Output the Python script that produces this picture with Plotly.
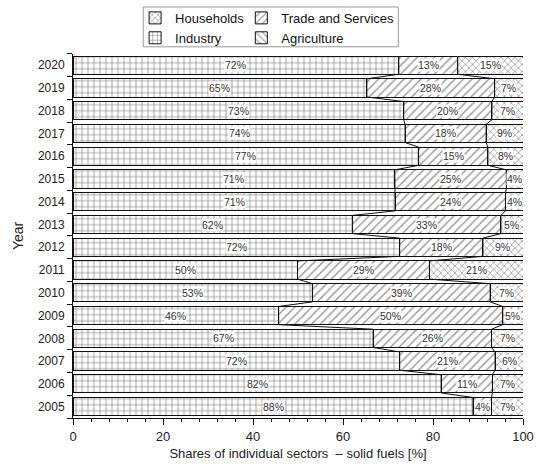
import plotly.graph_objects as go

years = list(range(2005, 2021))
# segment shares [%] (bottom 2005 -> top 2020)
industry = [88.9, 81.8, 72.6, 66.7, 45.7, 53.2, 49.9, 72.6, 62.1, 71.6, 71.5, 76.8, 73.8, 73.5, 65.3, 72.4]
trade = [4.1, 11.4, 21.2, 26.3, 49.8, 39.5, 29.3, 18.5, 33.0, 24.5, 24.8, 15.4, 18.0, 19.6, 28.4, 13.1]
agriculture = [0] * 16
households = [7.0, 6.8, 6.2, 7.0, 4.5, 7.3, 20.8, 8.9, 4.9, 3.9, 3.7, 7.8, 8.2, 6.9, 6.3, 14.5]
# printed labels
industry_lbl = [88, 82, 72, 67, 46, 53, 50, 72, 62, 71, 71, 77, 74, 73, 65, 72]
trade_lbl = [4, 11, 21, 26, 50, 39, 29, 18, 33, 24, 25, 15, 18, 20, 28, 13]
households_lbl = [7, 7, 6, 7, 5, 7, 21, 9, 5, 4, 4, 8, 9, 7, 7, 15]

FONT = "Liberation Sans, Arial, sans-serif"
fig = go.Figure()

def add_bar(name, vals, shape, size, sol, legend, rank):
    fig.add_trace(go.Bar(
        y=years, x=vals, name=name, orientation="h",
        marker=dict(color="white",
                    line=dict(color="#111", width=1),
                    pattern=dict(shape=shape, size=size, solidity=sol,
                                 fgcolor="#222", bgcolor="white")),
        legend=legend, legendrank=rank, hoverinfo="skip"))

add_bar("Industry", industry, "+", 6, 0.24, "legend", 2)
add_bar("Trade and Services", trade, "/", 6, 0.22, "legend2", 1)
add_bar("Agriculture", agriculture, "\\", 6, 0.22, "legend2", 2)
add_bar("Households", households, "x", 5, 0.26, "legend", 1)

# connecting lines between consecutive bars
h = 0.4
cum1 = industry
cum2 = [a + b + c for a, b, c in zip(industry, trade, agriculture)]
for cum in (cum1, cum2):
    xs, ys = [], []
    for yr, c in zip(years, cum):
        xs += [c, c]
        ys += [yr - h, yr + h]
    fig.add_trace(go.Scatter(x=xs, y=ys, mode="lines", line=dict(color="#111", width=1),
                             showlegend=False, hoverinfo="skip"))

# value labels
ann = []
for i, yr in enumerate(years):
    segs = [(0, industry[i], industry_lbl[i]),
            (industry[i], trade[i], trade_lbl[i]),
            (cum2[i], households[i], households_lbl[i])]
    for start, w, lbl in segs:
        ann.append(dict(x=start + w / 2, y=yr, text=f"{lbl}%", showarrow=False,
                        xref="x", yref="y", font=dict(size=10.5, color="#333", family=FONT),
                        bgcolor="white", borderpad=0))

PH = 415.0  # paper height in px (470 - 3 - 52)
dom_top = 366.0 / PH

fig.update_layout(
    width=538, height=470,
    margin=dict(l=73, r=15, t=3, b=52),
    barmode="stack", bargap=0.2,
    plot_bgcolor="white", paper_bgcolor="white",
    font=dict(family=FONT, color="#222", size=12),
    annotations=ann,
    legend=dict(x=0.138, y=1.005, xanchor="left", yanchor="top", orientation="v",
                traceorder="normal",
                font=dict(size=13, color="#111"), bgcolor="rgba(0,0,0,0)",
                tracegroupgap=0, itemwidth=30),
    legend2=dict(x=0.374, y=1.005, xanchor="left", yanchor="top", orientation="v",
                 traceorder="normal",
                 font=dict(size=13, color="#111"), bgcolor="rgba(0,0,0,0)",
                 tracegroupgap=0, itemwidth=30),
    shapes=[dict(type="rect", xref="paper", yref="paper", x0=0.156, x1=0.723,
                 y0=(418 - 45) / PH, y1=(418 - 5) / PH,
                 line=dict(color="#999", width=1))],
    xaxis=dict(range=[0, 100], tickvals=[0, 20, 40, 60, 80, 100], ticks="outside",
               ticklen=6, tickcolor="#111", showline=True, linecolor="#111", linewidth=1,
               showgrid=False, zeroline=False, tickfont=dict(size=13), automargin=False,
               minor=dict(dtick=4, tick0=0, ticks="outside", ticklen=3, tickcolor="#111"),
               title=dict(text="Shares of individual sectors  \u2013 solid fuels [%]",
                          font=dict(size=13), standoff=6)),
    yaxis=dict(range=[2004.5, 2020.5], domain=[0, dom_top], tickvals=years, ticks="",
               showline=True, automargin=False, ticklabelstandoff=5,
               linecolor="#111", linewidth=1, showgrid=False, zeroline=False,
               tickfont=dict(size=12),
               minor=dict(tick0=2004.5, dtick=1, ticks="outside", ticklen=5, tickcolor="#111"),
               title=dict(text="Year", font=dict(size=14), standoff=10)),
)

fig.write_html("out.html")
